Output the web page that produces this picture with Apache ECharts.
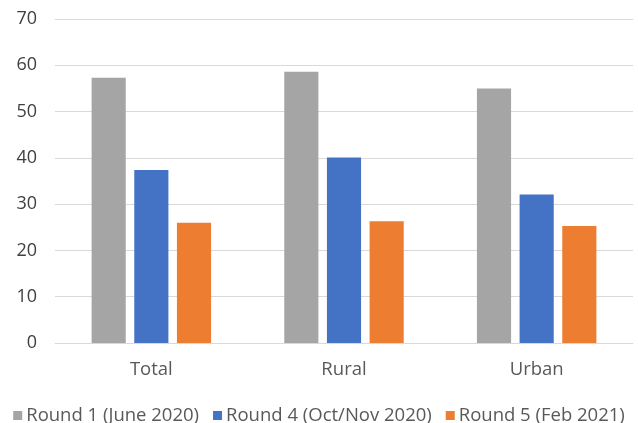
<!DOCTYPE html>
<html>
<head>
<meta charset="utf-8">
<script src="https://cdn.jsdelivr.net/npm/echarts@6/dist/echarts.min.js"></script>
<style>
  html, body { margin: 0; padding: 0; background: #fff; }
  #chart { width: 638px; height: 423px; }
</style>
</head>
<body>
<div id="chart"></div>
<script>
// chart data
var categories = ['Total', 'Rural', 'Urban'];
var seriesNames = ['Round 1 (June 2020)', 'Round 4 (Oct/Nov 2020)', 'Round 5 (Feb 2021)'];
var round1 = [57.3, 58.6, 55.0];
var round4 = [37.4, 40.1, 32.1];
var round5 = [26.0, 26.3, 25.3];
var colors = ['#a5a5a5', '#4472c4', '#ed7d31'];

var chart = echarts.init(document.getElementById('chart'));
var font = '"Open Sans", "Noto Sans", sans-serif';

chart.setOption({
    animation: false,
    textStyle: { fontFamily: font },
    grid: {
        left: 55,
        right: 5,
        top: 19,
        bottom: 80,
        containLabel: false
    },
    legend: {
        top: 401,
        left: 'center',
        itemWidth: 9,
        itemHeight: 9,
        itemGap: 14,
        icon: 'rect',
        textStyle: {
            color: '#595959',
            fontSize: 18.5,
            fontFamily: font,
            padding: [0, 0, 0, -1]
        },
        data: seriesNames
    },
    xAxis: {
        type: 'category',
        data: categories,
        axisTick: { show: false },
        axisLine: {
            lineStyle: { color: '#d9d9d9', width: 1 }
        },
        axisLabel: {
            color: '#595959',
            fontSize: 18.5,
            margin: 17
        }
    },
    yAxis: {
        type: 'value',
        min: 0,
        max: 70,
        interval: 10,
        axisLine: { show: false },
        axisTick: { show: false },
        splitLine: {
            lineStyle: { color: '#d9d9d9', width: 1 }
        },
        axisLabel: {
            color: '#404040',
            fontSize: 18,
            margin: 18
        }
    },
    series: [{
        name: seriesNames[0],
        type: 'bar',
        data: round1,
        itemStyle: { color: colors[0] },
        barGap: '25%',
        barCategoryGap: '38%'
    }, {
        name: seriesNames[1],
        type: 'bar',
        data: round4,
        itemStyle: { color: colors[1] }
    }, {
        name: seriesNames[2],
        type: 'bar',
        data: round5,
        itemStyle: { color: colors[2] }
    }]
});
</script>
</body>
</html>
